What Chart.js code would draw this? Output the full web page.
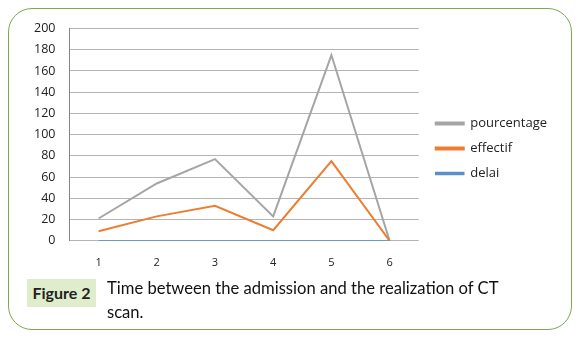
<!DOCTYPE html>
<html>
<head>
<meta charset="utf-8">
<script src="https://cdn.jsdelivr.net/npm/chart.js@4"></script>
<style>
  body { margin: 0; background: #fff; width: 579px; height: 339px; position: relative; overflow: hidden; font-family: "Open Sans", sans-serif; }
  .cadre { position: absolute; left: 8px; top: 8px; width: 562px; height: 320px; border: 1.5px solid #7aab4a; border-radius: 24px; }
  .graph { position: absolute; left: 10px; top: 7px; width: 560px; height: 277px; }
  .fig { position: absolute; left: 27px; top: 279px; width: 69px; height: 28px; background: #e0edcc; font-family: Lato, sans-serif; font-weight: bold; font-size: 16px; line-height: 28px; text-align: center; color: #222; }
  .legende { position: absolute; left: 107px; top: 276px; width: 415px; font-family: Lato, sans-serif; font-size: 16.6px; line-height: 24px; color: #111; }
</style>
</head>
<body>
<div class="cadre"></div>
<div class="graph"><canvas id="graficoDelai"></canvas></div>
<div class="fig">Figure 2</div>
<div class="legende">Time between the admission and the realization of CT scan.</div>
<script>
// categories et séries
const categories = ['1', '2', '3', '4', '5', '6'];
const delai = [0, 0, 0, 0, 0, 0];
const effectif = [9, 23, 33, 10, 75, 0];
const pourcentage = [21, 54, 77, 23, 175, 0];
const yTicks = [0, 20, 40, 60, 80, 100, 120, 140, 160, 180, 200];

document.addEventListener('DOMContentLoaded', function() {
    const ctx = document.getElementById('graficoDelai').getContext('2d');
    const police = "'Open Sans', sans-serif";

    new Chart(ctx, {
        type: 'line',
        data: {
            labels: categories,
            datasets: [
                { label: 'delai', data: delai, borderColor: '#5b8fc7', backgroundColor: '#5b8fc7', borderWidth: 1.5 },
                { label: 'effectif', data: effectif, borderColor: '#ed7d31', backgroundColor: '#ed7d31', borderWidth: 2 },
                { label: 'pourcentage', data: pourcentage, borderColor: '#a5a5a5', backgroundColor: '#a5a5a5', borderWidth: 2 }
            ]
        },
        options: {
            responsive: true,
            maintainAspectRatio: false,
            animation: false,
            elements: { point: { radius: 0 }, line: { tension: 0 } },
            layout: { padding: { top: 0, left: 10, right: 13 } },
            plugins: {
                tooltip: { enabled: false },
                legend: {
                    position: 'right',
                    reverse: true,
                    maxWidth: 200,
                    // titre vide : décale un peu la légende vers le bas
                    title: { display: true, text: ' ', padding: 0, font: { size: 5 } },
                    labels: {
                        boxWidth: 28,
                        boxHeight: 2,
                        padding: 12,
                        color: '#222',
                        font: { family: police, size: 13 }
                    }
                }
            },
            scales: {
                x: {
                    offset: true,
                    grid: { display: false, drawTicks: false },
                    border: { display: false },
                    ticks: { color: '#222', padding: 15, font: { family: police, size: 11 } }
                },
                y: {
                    min: 0,
                    max: 200,
                    afterBuildTicks: axis => { axis.ticks = yTicks.map(v => ({ value: v })); },
                    grid: { color: '#b4b4b4', drawTicks: false },
                    border: { color: '#868686' },
                    ticks: { color: '#222', padding: 14, font: { family: police, size: 12.5 } }
                },
                // espace vide entre la zone du graphique et la légende
                marge: {
                    position: 'right',
                    grid: { display: false },
                    border: { display: false },
                    ticks: { display: false },
                    afterFit: axis => { axis.width = 5; }
                }
            }
        }
    });
});
</script>
</body>
</html>
